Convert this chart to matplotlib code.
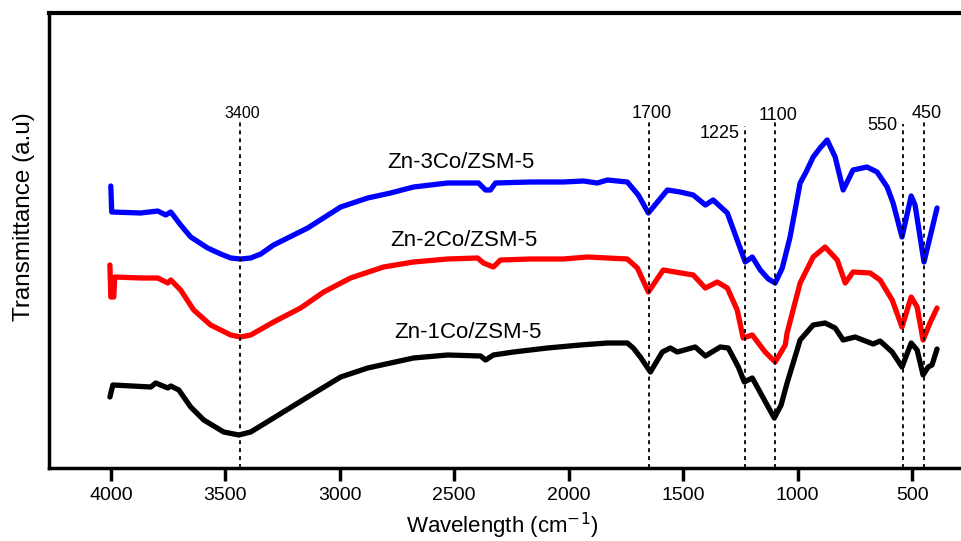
import matplotlib
matplotlib.use("Agg")
import matplotlib.pyplot as plt

plt.rcParams['font.family'] = ['Liberation Sans', 'DejaVu Sans']

# ---- data (wavenumber cm-1, transmittance a.u.) ----
wn_3co = [4000, 3996, 3869, 3795, 3760, 3738, 3695, 3651, 3577, 3520, 3476, 3433, 3389, 3345, 3289, 3140,
          2996, 2878, 2778, 2678, 2529, 2394, 2363, 2342, 2320, 2167, 2023, 1936, 1875, 1831,
          1744, 1696, 1652, 1569, 1513, 1456, 1403, 1369, 1307, 1264, 1229, 1198, 1163, 1128, 1098,
          1067, 1033, 1011, 989, 963, 932, 902, 871, 836, 801, 758, 697, 653, 609, 583, 544, 504,
          487, 448, 391]
t_3co = [282, 256, 255, 257, 253, 256, 243, 231, 220, 214, 210, 209, 210, 214, 223, 240,
         261, 270, 275, 281, 285, 285, 278, 278, 285, 286, 286, 287, 285, 288,
         286, 273, 255, 278, 276, 273, 263, 268, 255, 228, 206, 211, 198, 189, 185,
         200, 231, 258, 285, 296, 311, 320, 328, 311, 278, 298, 301, 296, 281, 265, 231, 272,
         263, 206, 260]

wn_2co = [4004, 4000, 3987, 3983, 3869, 3795, 3751, 3738, 3695, 3638, 3564, 3476, 3433, 3389,
          3289, 3171, 3070, 2953, 2809, 2678, 2529, 2398, 2372, 2329, 2298, 2167, 2023, 1918,
          1831, 1744, 1700, 1652, 1587, 1456, 1403, 1351, 1307, 1264, 1238, 1198, 1142, 1098, 1054,
          1046, 989, 932, 880, 827, 792, 758, 683, 640, 587, 544, 504, 478, 452, 422, 391]
t_2co = [203, 171, 171, 191, 190, 190, 185, 188, 178, 158, 143, 133, 131, 133,
         146, 160, 176, 190, 201, 206, 209, 210, 205, 201, 208, 209, 209, 211,
         210, 209, 200, 176, 198, 193, 180, 186, 180, 158, 130, 133, 116, 106, 123,
         135, 185, 211, 221, 208, 185, 196, 195, 188, 168, 141, 171, 161, 128, 145, 160]

wn_1co = [4004, 3991, 3825, 3804, 3751, 3738, 3703, 3651, 3594, 3507, 3441, 3389, 3289, 3140,
          2996, 2878, 2778, 2678, 2529, 2385, 2363, 2329, 2241, 2093, 1949, 1831, 1744, 1718,
          1687, 1643, 1591, 1556, 1526, 1447, 1403, 1338, 1303, 1259, 1233, 1198, 1150, 1102, 1072,
          1046, 989, 932, 880, 836, 801, 749, 670, 640, 587, 544, 504, 478, 452, 430, 413, 391]
t_1co = [71, 83, 81, 85, 80, 82, 78, 61, 48, 36, 33, 36, 50, 71,
         91, 100, 105, 110, 113, 112, 108, 113, 116, 120, 123, 125, 125, 120,
         111, 96, 116, 120, 116, 121, 112, 121, 120, 101, 86, 90, 70, 50, 63,
         85, 128, 143, 145, 140, 128, 131, 124, 127, 116, 101, 125, 118, 93, 101, 103, 119]

series_names = ['Zn-3Co/ZSM-5', 'Zn-2Co/ZSM-5', 'Zn-1Co/ZSM-5']
series_colors = ['#0000ff', '#ff0000', '#000000']

peak_pos = [3437, 1648, 1229, 1098, 539, 448]
peak_labels = ['3400', '1700', '1225', '1100', '550', '450']

xticks = [4000, 3500, 3000, 2500, 2000, 1500, 1000, 500]

# ---- figure ----
fig = plt.figure(figsize=(9.62, 5.41), dpi=100)
ax = fig.add_axes([49/962, 73/541, 1 - 49/962, 455/541])

for wn, t, c in zip([wn_3co, wn_2co, wn_1co], [t_3co, t_2co, t_1co], series_colors):
    ax.plot(wn, t, color=c, lw=3.8, solid_joinstyle='round', solid_capstyle='round')

ax.set_xlim(4270, 282)
ax.set_ylim(0, 455)

# peak guide lines
line_tops = [346, 346, 342, 346, 344, 346]
label_y = [354, 354, 335, 352, 343, 354]
for p, lab, top, ly in zip(peak_pos, peak_labels, line_tops, label_y):
    ax.plot([p, p], [0, top], ls=(0, (2.2, 2.2)), color='black', lw=1.3)
    if lab in ('1225', '550'):
        ax.annotate(lab, xy=(p, ly), xytext=(-4, 0), textcoords='offset points',
                    ha='right', va='center', fontsize=13)
    else:
        fs = 11.5 if lab == '3400' else 13
        ax.annotate(lab, xy=(p, ly), xytext=(2, 0), textcoords='offset points',
                    ha='center', va='center', fontsize=fs)

# series labels
lab_pos = [(2473, 306), (2459, 228), (2438, 135)]
for name, (x, y) in zip(series_names, lab_pos):
    ax.text(x, y, name, fontsize=16, ha='center', va='center')

ax.set_xticks(xticks)
ax.set_xticklabels([str(v) for v in xticks])
ax.set_yticks([])
ax.tick_params(axis='x', length=9, width=2.5, labelsize=14, pad=5)
ax.spines['right'].set_visible(False)
ax.spines['left'].set_linewidth(2.5)
ax.spines['bottom'].set_linewidth(2.5)
ax.spines['top'].set_linewidth(3)

fig.text(502/962, 1 - 526/541, 'Wavelength (cm$^{-1}$)', ha='center', va='center', fontsize=16)
fig.text(24/962, 1 - 217/541, 'Transmittance (a.u)', ha='center', va='center', rotation=90, fontsize=17.5)

fig.savefig('out.png', dpi=100)
